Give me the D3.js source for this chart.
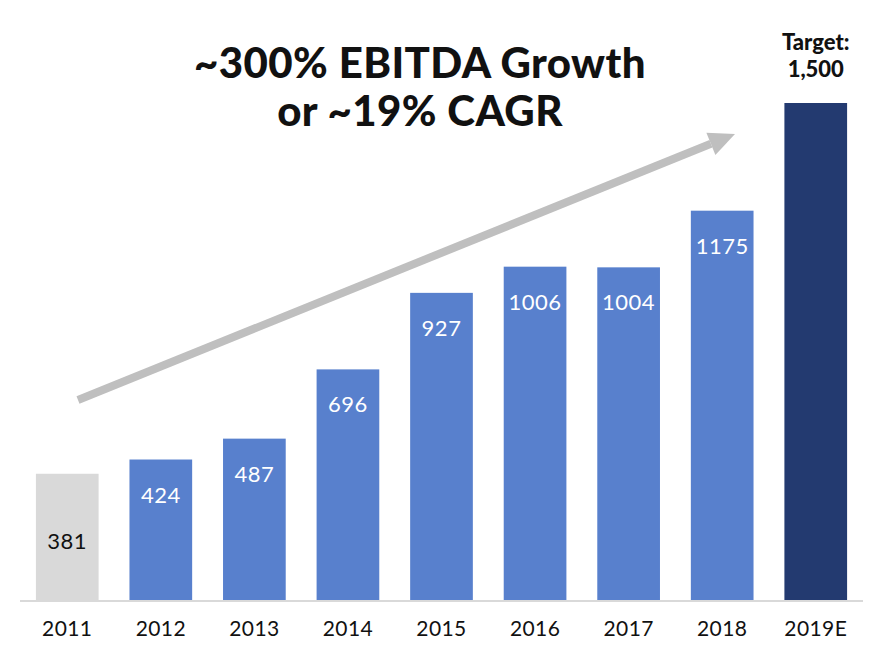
<!DOCTYPE html>
<html><head><meta charset="utf-8">
<script src="https://cdn.jsdelivr.net/npm/d3@7"></script>
<style>body{margin:0;background:#fff}svg{display:block}</style>
</head><body><svg id="c" width="878" height="647"></svg>
<script>
const categories = ["2011","2012","2013","2014","2015","2016","2017","2018","2019E"];
const values = [381,424,487,696,927,1006,1004,1175,1500];
const labels = ["381","424","487","696","927","1006","1004","1175",""];
const targetLabel = ["Target:","1,500"];
const titleLines = ["~300% EBITDA Growth","or ~19% CAGR"];

const W=878,H=647;
const svg=d3.select("#c");
const x=d3.scaleBand().domain(categories).range([20,863]).paddingInner(0.33).paddingOuter(0.17);
const y=d3.scaleLinear().domain([0,1500]).range([600,103]);
const color=(d,i)=> i===0?"#d9d9d9":(i===categories.length-1?"#233a70":"#5880cd");

svg.selectAll("rect.bar").data(values).join("rect").attr("class","bar")
 .attr("x",(d,i)=>x(categories[i])).attr("width",x.bandwidth())
 .attr("y",d=>y(d)).attr("height",d=>y(0)-y(d)).attr("fill",color);

svg.append("line").attr("x1",20).attr("x2",863).attr("y1",y(0)+1).attr("y2",y(0)+1)
 .attr("stroke","#d9d9d9").attr("stroke-width",2);

const font="'Lato','Open Sans',sans-serif";
svg.selectAll("text.val").data(values).join("text").attr("class","val")
 .attr("x",(d,i)=>x(categories[i])+x.bandwidth()/2)
 .attr("y",(d,i)=> i===0 ? (y(d)+y(0))/2+12 : y(d)+43)
 .attr("text-anchor","middle").attr("font-family",font).attr("font-size",22).attr("font-weight",400)
 .attr("letter-spacing",0.5)
 .attr("fill",(d,i)=>i===0?"#111":"#fff").text((d,i)=>labels[i]);

const xAxis=d3.axisBottom(x).tickSize(0).tickPadding(0);
const gx=svg.append("g").attr("transform","translate(0,621)").call(xAxis);
gx.select(".domain").remove();
gx.selectAll("text").attr("font-family",font).attr("font-size",21).attr("font-weight",400)
 .attr("letter-spacing",0.4).attr("fill","#111").attr("dy","0.71em");

const last=categories[categories.length-1];
svg.selectAll("text.tgt").data(targetLabel).join("text").attr("class","tgt")
 .attr("x",x(last)+x.bandwidth()/2).attr("y",(d,i)=>50+i*27)
 .attr("text-anchor","middle").attr("font-family",font).attr("font-weight",900)
 .attr("font-size",22).attr("fill","#111").text(d=>d);

svg.selectAll("text.title").data(titleLines).join("text").attr("class","title")
 .attr("x",420).attr("y",(d,i)=>78+i*48).attr("text-anchor","middle")
 .attr("font-family",font).attr("font-weight",900).attr("font-size",42)
 .attr("letter-spacing",0.4)
 .attr("fill","#111").text(d=>d);

// arrow
const x0=78,y0=400,x1=735,y1=134;
const ang=Math.atan2(y1-y0,x1-x0);
const headL=26, headW=12;
const bx=x1-headL*Math.cos(ang), by=y1-headL*Math.sin(ang);
svg.append("line").attr("x1",x0).attr("y1",y0).attr("x2",bx).attr("y2",by)
 .attr("stroke","#bfbfbf").attr("stroke-width",8);
const px=-Math.sin(ang), py=Math.cos(ang);
svg.append("path").attr("d",`M${x1},${y1}L${bx+px*headW},${by+py*headW}L${bx-px*headW},${by-py*headW}Z`)
 .attr("fill","#bfbfbf");
</script></body></html>
